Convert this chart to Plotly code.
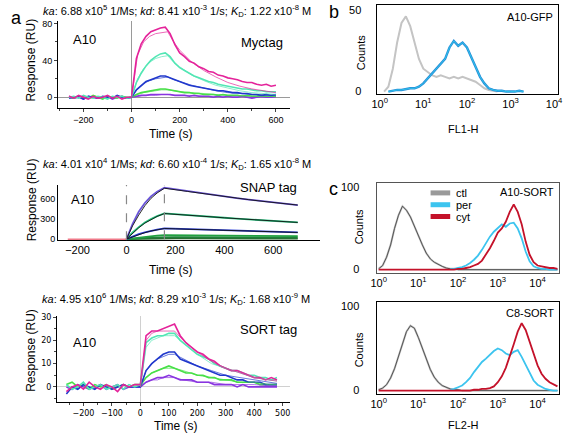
import plotly.graph_objects as go

W, H = 566, 437
FONT = "Liberation Sans"

# ---------------- Panel a, top (Myc tag) ----------------
T1 = [-260, -240, -220, -200, -180, -160, -140, -120, -100, -80, -60, -40, -20,
      0, 20, 40, 60, 80, 100, 120, 140, 160, 180, 200, 220, 240, 260, 280, 300,
      320, 340, 360, 380, 400, 420, 440, 460, 480, 500, 520, 540, 560, 580, 600]
MYC_MAG = [1, -1, 2, 0, -2, 1, -1, 0, 2, -1, 1, -2, 0,
           0, 42, 58, 66, 71, 73, 75, 76, 69, 57, 48, 44, 39, 37, 33, 31, 28, 27, 24, 23, 21, 20, 19, 17, 16, 16, 14, 13, 14, 12, 13]
MYC_AQU = [0, 1, -1, 2, 0, -1, 1, 0, -2, 1, 0, 1, -1,
           0, 16, 26, 34, 40, 44, 47, 48, 44, 37, 32, 29, 26, 23, 21, 19, 17, 16, 14, 13, 12, 11, 10, 9, 9, 8, 7, 7, 6, 6, 6]
MYC_BLU = [-1, 0, 1, -2, 1, 0, -1, 1, 0, -1, 2, 0, -1,
           0, 8, 13, 17, 19, 21, 23, 23, 21, 19, 17, 15, 13, 12, 11, 10, 9, 8, 7, 7, 6, 5, 5, 4, 4, 3, 3, 2, 3, 2, 3]
MYC_GRN = [0, -1, 1, 0, -1, 2, 0, -2, 1, 0, -1, 1, 0,
           0, 3, 5, 6, 7, 8, 9, 9, 8, 7, 6, 5, 5, 4, 4, 3, 3, 3, 2, 3, 2, 2, 2, 1, 2, 1, 1, 2, 1, 1, 1]
MYC_PUR = [1, -1, 0, -2, 1, 0, -1, 0, 1, -2, 0, 1, -1,
           0, 1, 2, 2, 3, 3, 3, 3, 3, 2, 2, 2, 1, 2, 1, 1, 1, 0, 1, 0, 1, 0, 0, 1, 0, -1, 0, 1, 0, 0, 1]
T1F = [0, 25, 50, 75, 100, 125, 150, 175, 200, 250, 300, 350, 400, 450, 500, 550, 600]
MYC_FIT_MAG = [0, 46, 60, 66, 69, 70, 71, 60, 51, 38, 29, 22, 16, 12, 9, 7, 5]
MYC_FIT_AQU = [0, 20, 31, 38, 42, 44, 45, 38, 33, 24, 18, 13, 10, 7, 5, 4, 3]
MYC_FIT_BLU = [0, 9, 15, 18, 20, 21, 22, 19, 17, 13, 10, 7, 5, 4, 3, 2, 2]
MYC_FIT_GRN = [0, 3, 5, 6, 7, 8, 8, 7, 6, 5, 4, 3, 2, 2, 1, 1, 1]
MYC_FIT_PUR = [0, 1, 2, 2, 2, 3, 3, 2, 2, 2, 1, 1, 1, 1, 0, 0, 0]

# ---------------- Panel a, middle (SNAP tag) ----------------
T2 = [0, 10, 25, 50, 75, 100, 125, 155, 200, 250, 300, 350, 400, 450, 500, 550, 600, 650, 700]
SNAP_1 = [0, 100, 230, 410, 540, 640, 710, 770, 745, 715, 690, 663, 638, 614, 592, 570, 549, 529, 510]
SNAP_F1 = [0, 80, 200, 360, 500, 610, 690, 762, 743, 714, 689, 662, 637, 613, 591, 569, 548, 528, 510]
SNAP_2 = [0, 40, 100, 180, 250, 300, 345, 385, 375, 362, 348, 334, 320, 306, 294, 282, 271, 260, 250]
SNAP_F2 = [0, 35, 90, 170, 240, 295, 340, 383, 374, 361, 347, 333, 319, 306, 293, 281, 270, 259, 250]
SNAP_3 = [0, 15, 40, 75, 100, 125, 143, 160, 155, 148, 142, 136, 130, 124, 119, 114, 109, 105, 100]
SNAP_F3 = [0, 13, 36, 70, 97, 122, 141, 159, 154, 148, 142, 136, 130, 124, 119, 114, 109, 105, 100]
SNAP_4 = [0, 5, 12, 25, 35, 45, 52, 60, 58, 56, 54, 52, 50, 49, 48, 47, 46, 45, 44]
SNAP_5 = [0, 3, 7, 13, 18, 22, 26, 30, 29, 28, 27, 26, 25, 25, 24, 23, 23, 22, 22]
SNAP_6 = [0, 1, 3, 5, 7, 9, 10, 12, 12, 11, 11, 11, 10, 10, 10, 10, 9, 9, 9]
T2_BASE = [-240, -160, -80, 0]
SNAP_BASE = [0, 0, 0, 0]

# ---------------- Panel a, bottom (SORT tag) ----------------
T3 = [-260, -240, -220, -200, -180, -160, -140, -120, -100, -80, -60, -40, -20,
      0, 20, 40, 60, 80, 100, 120, 140, 160, 180, 200, 220, 240, 260, 280, 300,
      320, 340, 360, 380, 400, 420, 440, 460, 480]
SORT_MAG = [-2, 0, 1, -1, 2, 0, -1, 1, 0, -2, 1, 0, 1,
            1, 22, 24, 24, 25, 26, 27, 22, 19, 17, 15, 14, 12, 11, 9, 8, 7, 7, 6, 5, 4, 4, 3, 4, 3]
SORT_AQU = [1, -1, 0, 2, -1, 0, 1, -1, 0, 1, -1, 1, 0,
            1, 19, 21, 22, 22, 23, 23, 20, 18, 16, 14, 13, 12, 10, 9, 8, 7, 7, 6, 5, 5, 4, 4, 3, 4]
SORT_BLU = [-3, 0, -1, 1, 0, -1, 1, 0, -1, 0, 1, 0, 0,
            0, 7, 10, 12, 14, 15, 15, 12, 11, 10, 9, 8, 7, 6, 5, 5, 4, 3, 3, 2, 2, 2, 1, 1, 1]
SORT_GRN = [1, 2, 0, 1, -1, 1, 0, 1, -1, 0, 1, 0, 1,
            1, 4, 6, 7, 8, 9, 8, 7, 6, 6, 5, 5, 4, 4, 3, 3, 3, 2, 2, 2, 2, 1, 1, 1, 1]
SORT_PUR = [0, -1, 1, 0, -1, 0, 1, -1, 0, 1, -1, 0, 0,
            0, 2, 3, 4, 4, 5, 4, 3, 3, 3, 2, 2, 2, 1, 1, 1, 1, 0, 1, 0, 0, 0, 0, 0, 0]
T3F = [0, 20, 40, 60, 80, 100, 120, 150, 200, 250, 300, 350, 400, 450, 480]
SORT_FIT_MAG = [0, 20, 23, 24, 24, 24, 24, 20, 15, 11, 8, 6, 4, 3, 2.5]
SORT_FIT_AQU = [0, 17, 20, 21, 22, 22, 22, 19, 14, 10, 8, 6, 4, 3, 2.5]
SORT_FIT_BLU = [0, 7, 10, 12, 13, 14, 14, 12, 9, 7, 5, 4, 3, 2, 1.5]
SORT_FIT_GRN = [0, 4, 6, 7, 8, 8, 8, 7, 5, 4, 3, 2, 2, 1, 1]
SORT_FIT_PUR = [0, 2, 3, 3, 4, 4, 4, 3, 2, 2, 1, 1, 1, 0.5, 0.5]

# ---------------- Flow cytometry histograms ----------------
BINS = [1.0, 1.26, 1.58, 2.0, 2.51, 3.16, 3.98, 5.01, 6.31, 7.94,
        10, 12.6, 15.8, 20, 25.1, 31.6, 39.8, 50.1, 63.1, 79.4,
        100, 126, 158, 200, 251, 316, 398, 501, 631, 794,
        1000, 1259, 1585, 1995, 2512, 3162, 3981, 5012, 6310, 7943,
        10000, 12589, 15849, 19953, 25119, 31623]
N = None
B_CTL = [N, 0, 3, 14, 30, 42, 46, 40, 30, 20,
         14, 12, 10, 9, 10, 9, 8, 9, 8, 9,
         8, 7, 6, 4, 2, 1, 0.5, 0, N, N,
         N, N, N, N, N, N, N, N, N, N,
         N, N, N, N, N, N]
B_GFP = [N, N, 0, 0.5, 1, 1, 1.5, 2, 2, 3,
         5, 8, 11, 14, 17, 20, 27, 31, 28, 30,
         27, 21, 15, 9, 5, 2, 1, 0.5, 0.5, 0,
         0, 0, 0.5, 0, N, N, N, N, N, N,
         N, N, N, N, N, N]
C1_CTL = [1, 5, 15, 30, 50, 66, 77, 72, 64, 52,
          40, 30, 20, 13, 9, 6, 4, 2, 1, 1,
          0, 0, 0, 0, 0, 0, 0, 0, 0, 0,
          0, 0, 0, 0, 0, 0, 0, 0, 0, 0,
          0, 0, 0, 0, 0, 0]
C1_PER = [N, N, N, N, N, N, N, N, N, N,
          N, N, N, N, N, N, N, N, 1, 1,
          2, 3, 5, 8, 12, 17, 24, 32, 40, 46,
          50, 55, 52, 56, 57, 50, 38, 22, 10, 4,
          2, 1, 1, 0, 0, 0]
C1_CYT = [0, 0, 0, 0, 0, 0, 0, 0, 0, 0,
          0, 0, 0, 0, 0, 0, 0, 0, 0, 0,
          1, 1, 2, 3, 5, 7, 11, 18, 26, 35,
          45, 50, 58, 70, 79, 70, 55, 34, 18, 9,
          5, 4, 3, 2, 2, 1]
C2_CTL = [1, 3, 7, 15, 26, 40, 55, 70, 77, 74,
          63, 50, 37, 25, 16, 10, 6, 4, 2, 1,
          1, 0, 0, 0, 0, 0, 0, 0, 0, 0,
          0, 0, 0, 0, 0, 0, 0, 0, 0, 0,
          0, 0, 0, 0, 0, 0]
C2_PER = [N, N, N, N, N, N, N, N, N, N,
          N, N, N, N, N, N, N, N, 1, 2,
          4, 6, 10, 15, 22, 28, 34, 38, 43, 47,
          50, 48, 44, 42, 46, 48, 40, 30, 20, 12,
          7, 4, 2, 1, 0, 0]
C2_CYT = [0, 0, 0, 0, 0, 0, 0, 0, 0, 0,
          0, 0, 0, 0, 0, 0, 0, 0, 0, 0,
          0, 0, 0, 0, 1, 1, 2, 2, 3, 5,
          10, 17, 27, 40, 55, 70, 80, 72, 58, 42,
          30, 20, 14, 10, 7, 5]

LOG_TICKS = [1, 10, 100, 1000, 10000]
LOG_TEXT = ["10<sup>0</sup>", "10<sup>1</sup>", "10<sup>2</sup>", "10<sup>3</sup>", "10<sup>4</sup>"]

MAG, AQU, BLU, GRN, PUR = "#e4239a", "#52e6b4", "#2038cc", "#48e048", "#8a35e0"
CTL_C, PER_C, CYT_C = "#8c8c8c", "#3cc4ef", "#c4122a"

fig = go.Figure()

def add(x, y, color, width, ax, opacity=1.0):
    fig.add_trace(go.Scatter(x=x, y=y, mode="lines", line=dict(color=color, width=width),
                             xaxis="x" + ax, yaxis="y" + ax, showlegend=False,
                             opacity=opacity, hoverinfo="skip", connectgaps=False))

# a top
for ys, c in [(MYC_PUR, PUR), (MYC_GRN, GRN), (MYC_BLU, BLU), (MYC_AQU, AQU), (MYC_MAG, MAG)]:
    add(T1, ys, c, 1.6, "")
for ys, c in [(MYC_FIT_PUR, PUR), (MYC_FIT_GRN, GRN), (MYC_FIT_BLU, BLU), (MYC_FIT_AQU, AQU), (MYC_FIT_MAG, MAG)]:
    add(T1F, ys, c, 0.9, "", 0.75)

# a middle
add(T2_BASE, SNAP_BASE, "#f07a8a", 1.5, "2")
for ys, c in [(SNAP_6, "#2a6a30"), (SNAP_5, "#1f7f3a"), (SNAP_4, "#20a040"),
              (SNAP_3, "#2b3fd8"), (SNAP_2, "#26c47f"), (SNAP_1, "#6a55d8")]:
    add(T2, ys, c, 1.8, "2")
for ys in [SNAP_F3, SNAP_F2, SNAP_F1]:
    add(T2, ys, "#111111", 0.9, "2")

# a bottom
for ys, c in [(SORT_PUR, PUR), (SORT_GRN, GRN), (SORT_BLU, BLU), (SORT_AQU, AQU), (SORT_MAG, MAG)]:
    add(T3, ys, c, 1.6, "3")
for ys, c in [(SORT_FIT_PUR, PUR), (SORT_FIT_GRN, GRN), (SORT_FIT_BLU, BLU), (SORT_FIT_AQU, AQU), (SORT_FIT_MAG, MAG)]:
    add(T3F, ys, c, 0.9, "3", 0.75)

# b
add(BINS, B_CTL, "#c4c4c4", 2.0, "4")
add(BINS, B_GFP, "#2a8ed8", 2.4, "4")
add(BINS, B_GFP, "#2fd0f0", 0.8, "4")

# c top
add(BINS, C1_CTL, "#c0c0c0", 2.0, "5")
add(BINS, C1_CTL, "#4a4a4a", 0.9, "5")
add(BINS, C1_PER, PER_C, 1.8, "5")
add(BINS, C1_CYT, CYT_C, 1.8, "5")

# c bottom
add(BINS, C2_CTL, "#c0c0c0", 2.0, "6")
add(BINS, C2_CTL, "#4a4a4a", 0.9, "6")
add(BINS, C2_PER, PER_C, 1.8, "6")
add(BINS, C2_CYT, CYT_C, 1.8, "6")

def px(x0, x1):
    return [x0 / W, x1 / W]

def py(top, bottom):
    return [1 - bottom / H, 1 - top / H]

tf = dict(family=FONT, size=9, color="black")
base = dict(showline=True, linecolor="black", linewidth=1, showgrid=False, tickfont=tf)

layout = dict(
    width=W, height=H, margin=dict(l=0, r=0, t=0, b=0),
    paper_bgcolor="white", plot_bgcolor="white",
    font=dict(family=FONT, color="black"),
    showlegend=False,
    # a top
    xaxis=dict(base, domain=px(53, 290), range=[-306, 660], anchor="y",
               tick0=0, dtick=200, ticks="outside", ticklen=3,
               minor=dict(dtick=100, ticks="outside", ticklen=2),
               zeroline=True, zerolinecolor="#9a9a9a", zerolinewidth=1),
    yaxis=dict(base, domain=py(18, 107), range=[-12, 83], anchor="x",
               tick0=0, dtick=40, ticks="outside", ticklen=3,
               minor=dict(dtick=20, ticks="outside", ticklen=2),
               zeroline=True, zerolinecolor="#9a9a9a", zerolinewidth=1),
    # a middle
    xaxis2=dict(base, domain=px(53, 320), range=[-280, 790], anchor="y2",
                tick0=0, dtick=200, ticks="", zeroline=False,
                tickfont=dict(family=FONT, size=11, color="black")),
    yaxis2=dict(base, domain=py(185, 241), range=[-15, 810], anchor="x2",
                tickvals=[0, 300, 600], ticks="", zeroline=False,
                tickfont=dict(family=FONT, size=9, color="black")),
    # a bottom
    xaxis3=dict(base, domain=px(52, 290), range=[-293, 527], anchor="y3",
                tick0=0, dtick=100, ticks="outside", ticklen=3,
                minor=dict(dtick=50, ticks="outside", ticklen=2),
                zeroline=True, zerolinecolor="#d0d0d0", zerolinewidth=1,
                tickfont=dict(family="DejaVu Sans", size=8, color="black")),
    yaxis3=dict(base, domain=py(318, 406), range=[-6.7, 30.5], anchor="x3",
                tick0=0, dtick=10, ticks="outside", ticklen=3,
                minor=dict(dtick=5, ticks="outside", ticklen=2),
                zeroline=True, zerolinecolor="#d0d0d0", zerolinewidth=1,
                tickfont=dict(family="DejaVu Sans", size=8, color="black")),
)

def logx(dom, rng, anchor, lc):
    return dict(type="log", domain=dom, range=rng, anchor=anchor, showline=True, mirror=True,
                linecolor=lc, linewidth=1.2, showgrid=False, ticks="", zeroline=False,
                tickvals=LOG_TICKS, ticktext=LOG_TEXT, ticklabeloverflow="allow",
                tickfont=dict(family=FONT, size=11, color="black"))

def liny(dom, rng, anchor, vals, lc, standoff):
    return dict(domain=dom, range=rng, anchor=anchor, showline=True, mirror=True,
                linecolor=lc, linewidth=1.2, showgrid=False, ticks="", zeroline=False,
                tickvals=vals, ticklabelstandoff=standoff,
                tickfont=dict(family=FONT, size=11, color="black"))

layout["xaxis4"] = logx(px(378, 563), [-0.07, 4.09], "y4", "black")
layout["yaxis4"] = liny(py(2, 92), [-1.2, 53], "x4", [0, 50], "black", 12)
layout["xaxis5"] = logx(px(378, 564), [-0.05, 4.54], "y5", "#555555")
layout["yaxis5"] = liny(py(183, 274), [-3.6, 105], "x5", [0, 100], "#555555", 14)
layout["xaxis6"] = logx(px(378, 564), [-0.05, 4.54], "y6", "black")
layout["yaxis6"] = liny(py(304, 397), [-3.6, 105], "x6", [0, 100], "black", 14)
fig.update_layout(**layout)

# dashed injection markers on SNAP panel
fig.add_shape(type="line", xref="x2", yref="y2", x0=0, x1=0, y0=-15, y1=810,
              line=dict(color="#888888", width=1.2, dash="dash"))
fig.add_shape(type="line", xref="x2", yref="y2", x0=155, x1=155, y0=0, y1=810,
              line=dict(color="#888888", width=1.2, dash="dash"))

def ann(text, x, y, size=11, xanchor="center", angle=0, yanchor="middle"):
    fig.add_annotation(text=text, x=x / W, y=1 - y / H, xref="paper", yref="paper",
                       showarrow=False, xanchor=xanchor, yanchor=yanchor, textangle=angle,
                       font=dict(family=FONT, size=size, color="black"))

T_KIN = [
    "<i>ka</i>: 6.88 x10<sup>5</sup> 1/Ms; <i>kd</i>: 8.41 x10<sup>-3</sup> 1/s; <i>K</i><sub>D</sub>: 1.22 x10<sup>-8</sup> M",
    "<i>ka</i>: 4.01 x10<sup>4</sup> 1/Ms; <i>kd</i>: 6.60 x10<sup>-4</sup> 1/s; <i>K</i><sub>D</sub>: 1.65 x10<sup>-8</sup> M",
    "<i>ka</i>: 4.95 x10<sup>6</sup> 1/Ms; <i>kd</i>: 8.29 x10<sup>-3</sup> 1/s; <i>K</i><sub>D</sub>: 1.68 x10<sup>-9</sup> M",
]
ann(T_KIN[0], 174, 8, 11)
ann(T_KIN[1], 174, 164, 11)
ann(T_KIN[2], 173, 301, 11)

ann("a", 3, 15, 18, xanchor="left")
ann("b", 327, 9, 18, xanchor="left")
ann("c", 327, 189, 18, xanchor="left")

ann("A10", 80, 37, 13)
ann("A10", 78, 200, 13)
ann("A10", 80, 345, 13)
ann("Myctag", 285, 40, 13, xanchor="right")
ann("SNAP tag", 237, 187, 13, xanchor="left")
ann("SORT tag", 237, 332, 13, xanchor="left")

for yy in (58, 200, 353):
    ann("Response (RU)", 26, yy, 12, angle=-90)
ann("Time (s)", 168, 133, 12)
ann("Time (s)", 168, 271, 12)
ann("Time (s)", 173, 430, 12)

ann("Counts", 362, 50, 11, angle=-90)
ann("Counts", 360, 228, 11, angle=-90)
ann("Counts", 360, 353, 11, angle=-90)
ann("FL1-H", 467, 128, 11)
ann("FL2-H", 467, 429, 11)

ann("A10-GFP", 560, 14, 11, xanchor="right")
ann("A10-SORT", 561, 192, 11, xanchor="right")
ann("C8-SORT", 561, 315, 11, xanchor="right")

LEG = [("ctl", "#9a9a9a", 193), ("per", PER_C, 205), ("cyt", CYT_C, 217)]
for name, col, yy in LEG:
    fig.add_shape(type="line", xref="paper", yref="paper", x0=433 / W, x1=453 / W,
                  y0=1 - yy / H, y1=1 - yy / H, line=dict(color=col, width=5))
    ann(name, 457, yy, 11, xanchor="left")

fig.write_html("out.html", config={"displayModeBar": False},
               post_script="document.body.style.margin='0';document.body.style.overflow='hidden';")
